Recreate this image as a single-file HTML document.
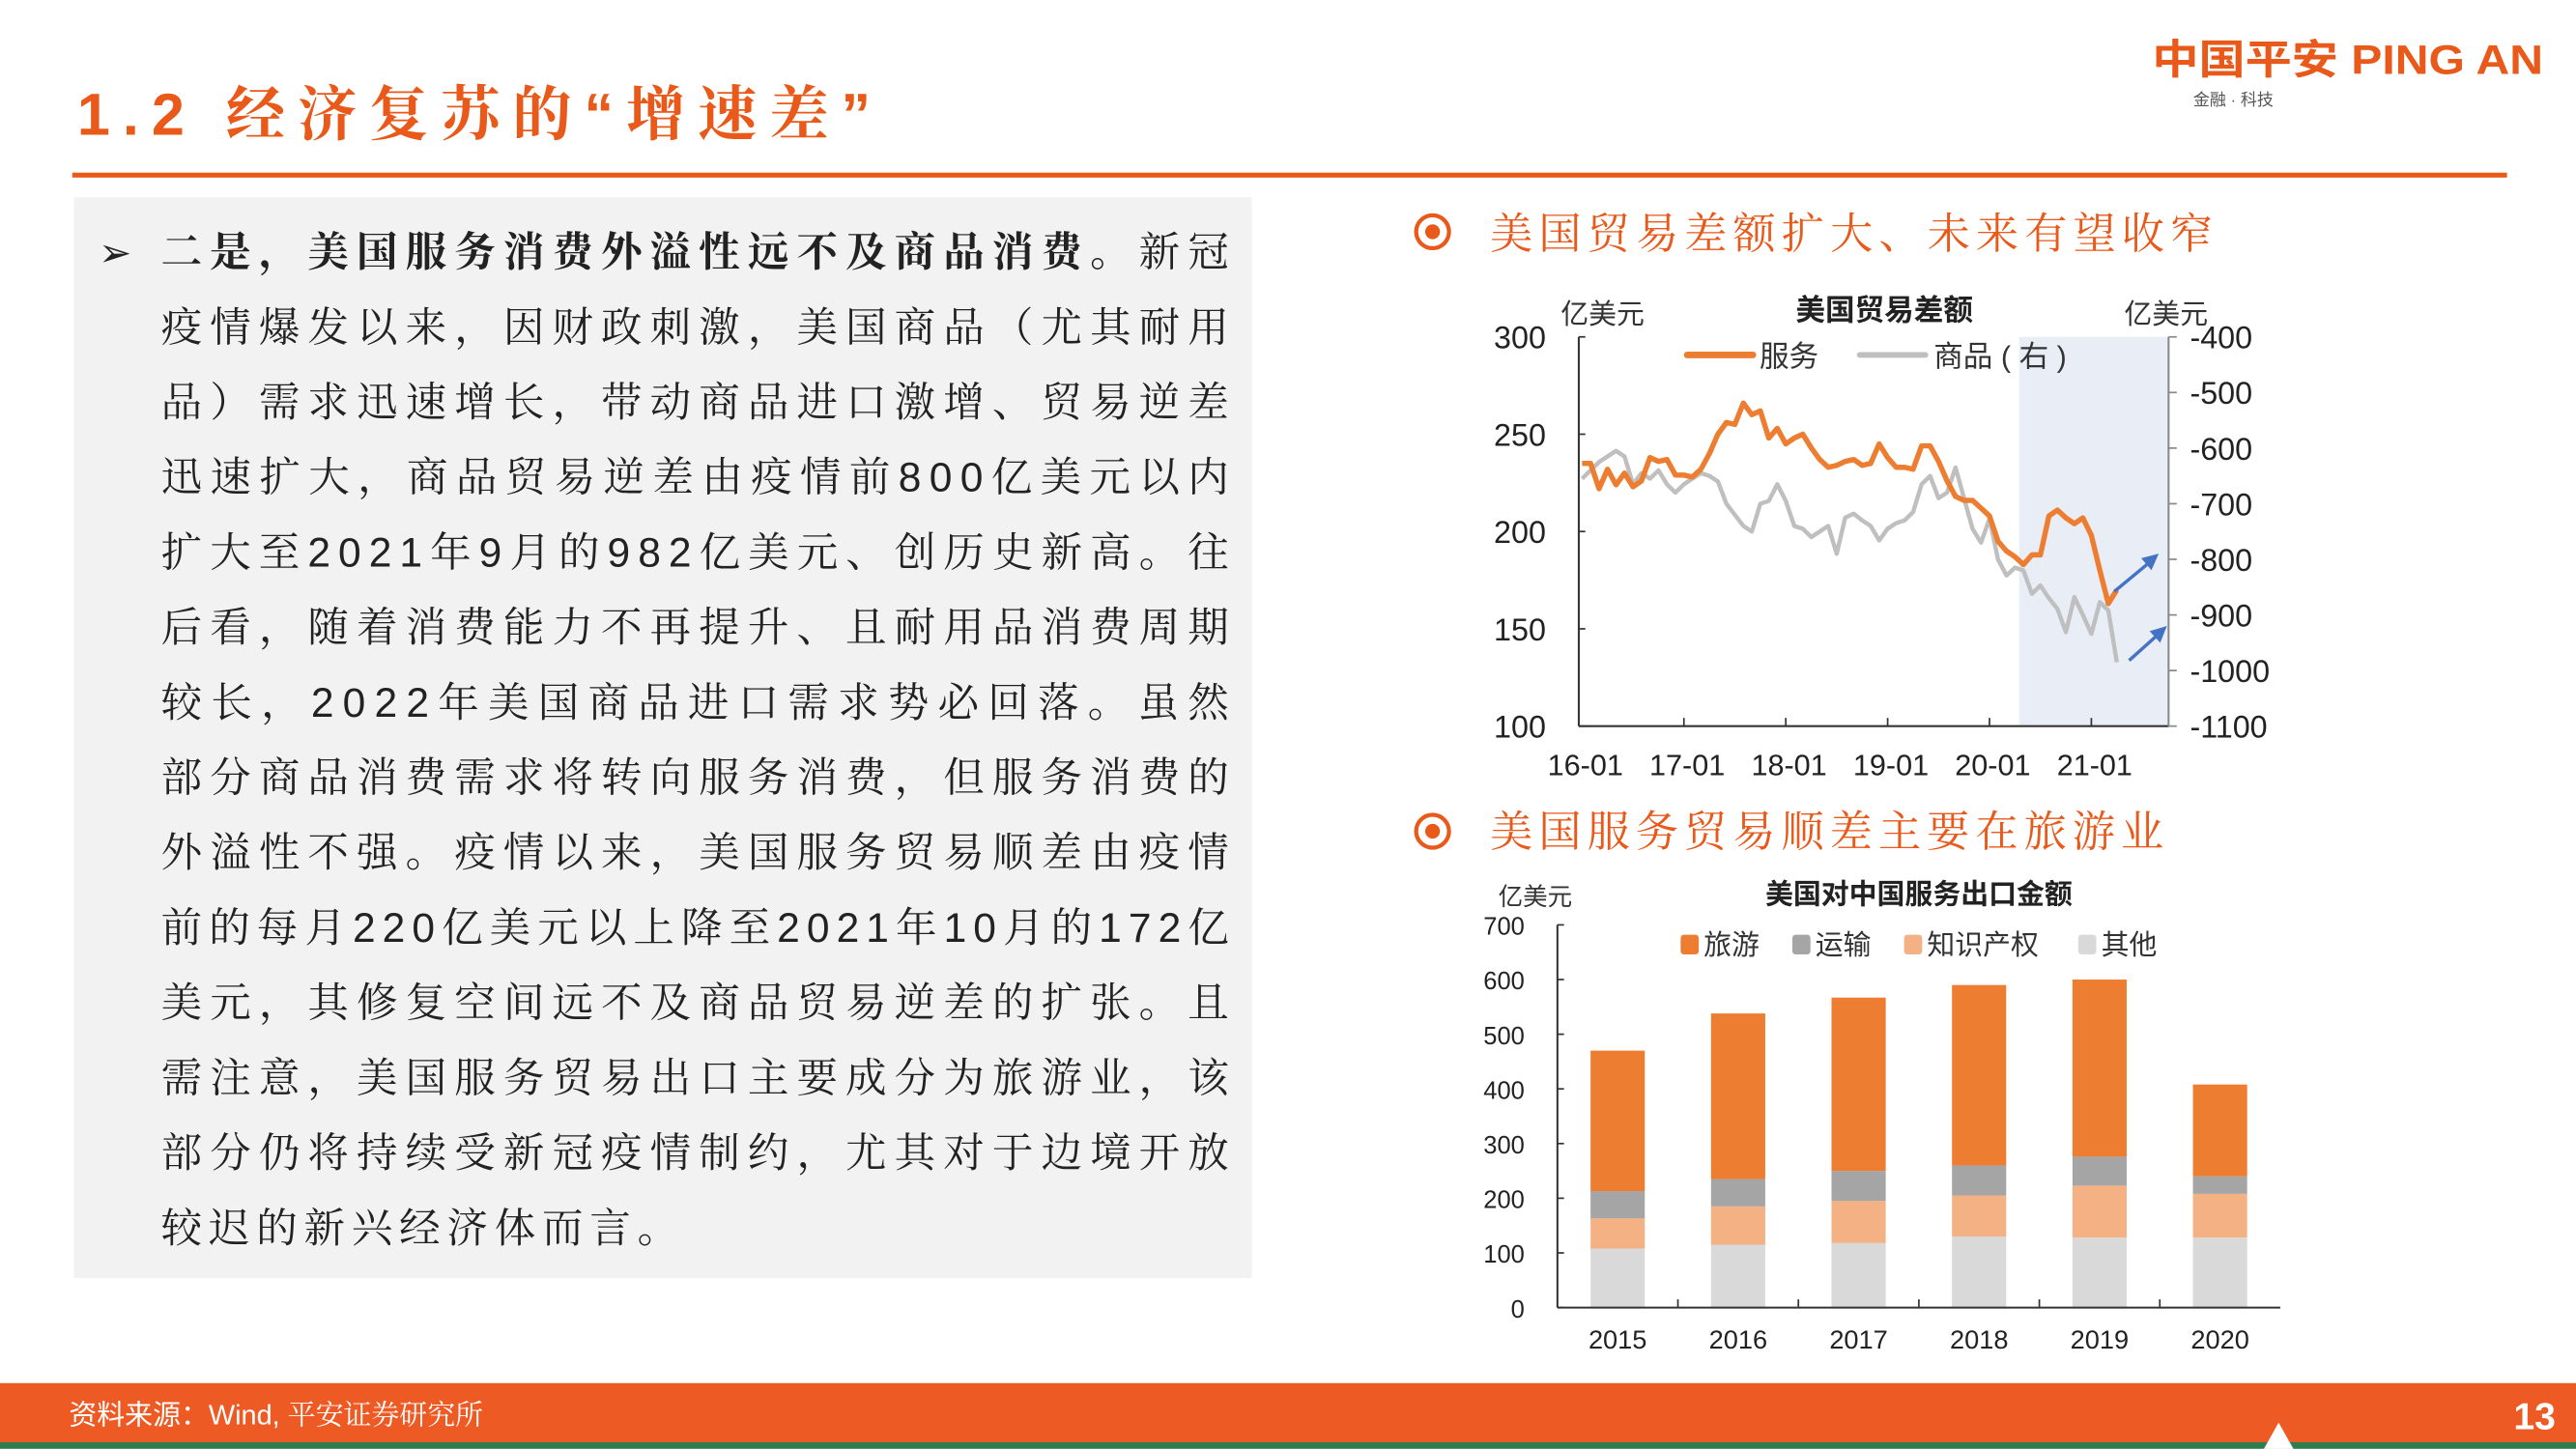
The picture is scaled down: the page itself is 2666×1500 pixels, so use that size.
<!DOCTYPE html>
<html><head><meta charset="utf-8"><style>
html,body{margin:0;padding:0;background:#fff;}
svg{display:block;}
.s{font-family:"Liberation Sans","Noto Sans CJK SC",sans-serif;}
.r{font-family:"Liberation Sans","Noto Serif CJK SC",serif;}
</style></head><body>
<svg id="page" width="2666" height="1500" viewBox="0 0 1568 882" xmlns="http://www.w3.org/2000/svg">
<text x="47" y="82" class="r" font-size="36" fill="#E8591A" font-weight="bold" textLength="483" lengthAdjust="spacing"><tspan class="s">1.2</tspan> 经济复苏的“增速差”</text>
<g>
<text x="1310" y="45" class="s" font-size="25" font-weight="bold" fill="#E8591A" textLength="238" lengthAdjust="spacingAndGlyphs">中国平安 PING AN</text>
<text x="1335" y="64" class="s" font-size="10" fill="#555">金融 · 科技</text>
</g>
<rect x="44" y="105" width="1482" height="3" fill="#E8591A"/>
<rect x="45" y="120" width="717" height="658" fill="#F2F2F2"/>
<text x="60" y="162" class="s" font-size="24" fill="#222">➢</text>
<g id="para" class="r" font-size="25" fill="#222"></g>

<g>
<circle cx="872" cy="141" r="10" fill="none" stroke="#E8591A" stroke-width="2.5"/><circle cx="872" cy="141" r="4.5" fill="#E8591A"/>
<text x="907" y="151" class="r" font-size="26" fill="#E8591A" textLength="440" lengthAdjust="spacing">美国贸易差额扩大、未来有望收窄</text>
</g>
<g>
<circle cx="872" cy="506" r="10" fill="none" stroke="#E8591A" stroke-width="2.5"/><circle cx="872" cy="506" r="4.5" fill="#E8591A"/>
<text x="907" y="515" class="r" font-size="26" fill="#E8591A" textLength="410" lengthAdjust="spacing">美国服务贸易顺差主要在旅游业</text>
</g>
<g id="lineChart"></g>
<g id="barChart"></g>

<rect x="0" y="842" width="1568" height="36" fill="#EE5A24"/>
<rect x="0" y="878" width="1568" height="4" fill="#2E7D4F"/>
<text x="42" y="867" class="r" font-size="17" fill="#fff"><tspan class="s">资料来源：Wind,</tspan> 平安证券研究所</text>
<text x="1530" y="870" class="s" font-size="23" font-weight="bold" fill="#fff">13</text>
<path d="M1378 882 L1387 866 L1396 882 Z" fill="#fff"/>
</svg>
<script>
const NS="http://www.w3.org/2000/svg";
function mk(p,t,a,txt){const e=document.createElementNS(NS,t);for(const k in a)e.setAttribute(k,a[k]);if(txt!==undefined)e.textContent=txt;p.appendChild(e);return e;}

const lines=[
"二是，美国服务消费外溢性远不及商品消费。新冠",
"疫情爆发以来，因财政刺激，美国商品（尤其耐用",
"品）需求迅速增长，带动商品进口激增、贸易逆差",
"迅速扩大，商品贸易逆差由疫情前800亿美元以内",
"扩大至2021年9月的982亿美元、创历史新高。往",
"后看，随着消费能力不再提升、且耐用品消费周期",
"较长，2022年美国商品进口需求势必回落。虽然",
"部分商品消费需求将转向服务消费，但服务消费的",
"外溢性不强。疫情以来，美国服务贸易顺差由疫情",
"前的每月220亿美元以上降至2021年10月的172亿",
"美元，其修复空间远不及商品贸易逆差的扩张。且",
"需注意，美国服务贸易出口主要成分为旅游业，该",
"部分仍将持续受新冠疫情制约，尤其对于边境开放",
"较迟的新兴经济体而言。"];
const para=document.getElementById('para');
lines.forEach((l,i)=>{
  const y=162+i*45.7;
  const last=i===lines.length-1;
  const a={x:98,y:y};
  if(!last){a.textLength=650;a.lengthAdjust="spacing";}
  else{a["letter-spacing"]="4";}
  const t=mk(para,'text',a);
  
  
  if(i===0){
    mk(t,'tspan',{"font-weight":"bold"},"二是，美国服务消费外溢性远不及商品消费。");
    mk(t,'tspan',{},"新冠");
  } else t.textContent=l;
});

const monthStartYear=2016;
const servicesData=[235,235,222,232,224,230,223,226,238,236,237,229,
229,228,232,240,250,256,255,266,260,262,248,253,
245,248,250,243,237,233,234,236,237,234,235,245,
238,233,233,232,244,244,236,226,218,216,216,212,
208,195,190,187,183,188,188,208,211,207,204,207,
198,180,163,170];
const goodsData=[-655,-640,-625,-615,-605,-615,-665,-645,-655,-640,-665,-680,
-665,-655,-645,-650,-660,-700,-720,-740,-750,-700,-695,-665,
-695,-740,-745,-760,-750,-740,-790,-725,-718,-730,-740,-766,
-745,-735,-730,-715,-665,-650,-690,-680,-635,-690,-745,-770,
-727,-800,-829,-815,-820,-862,-847,-870,-889,-931,-868,-900,
-934,-877,-892,-985];
const leftTicks=[100,150,200,250,300];
const rightTicks=[-1100,-1000,-900,-800,-700,-600,-500,-400];
const xTickLabels=["16-01","17-01","18-01","19-01","20-01","21-01"];
const shadeStartMonth=51.5;

(function(){
  const g=document.getElementById('lineChart');
  const L=961,R=1320,T=205,B=442,x0=963,perMonth=62/12;
  const X=m=>x0+m*perMonth;
  const YL=v=>B-(v-100)/200*(B-T);
  const YR=v=>B-(v+1100)/700*(B-T);
  const sh=mk(g,'rect',{x:X(shadeStartMonth),y:T,width:R-X(shadeStartMonth),height:B-T,fill:"#E9EDF6"});
  
  const tt=mk(g,'text',{x:1147,y:195,"text-anchor":"middle",class:"s","font-size":18,"font-weight":"bold",fill:"#222"},"美国贸易差额");
  
  const ul=mk(g,'text',{x:950,y:197,class:"s","font-size":17,fill:"#333"},"亿美元");
  
  const ur=mk(g,'text',{x:1293,y:197,class:"s","font-size":17,fill:"#333"},"亿美元");
  
  mk(g,'line',{x1:L,y1:T,x2:L,y2:B,stroke:"#333","stroke-width":1.2});
  mk(g,'line',{x1:L,y1:B,x2:R,y2:B,stroke:"#333","stroke-width":1.2});
  mk(g,'line',{x1:R,y1:T,x2:R,y2:B,stroke:"#888","stroke-width":1.2});
  leftTicks.forEach(v=>{
    mk(g,'line',{x1:L,y1:YL(v),x2:L+4,y2:YL(v),stroke:"#333"});
    const t=mk(g,'text',{x:941,y:YL(v)+7,"text-anchor":"end",class:"s","font-size":19,fill:"#222"},v);
    
  });
  rightTicks.forEach(v=>{
    mk(g,'line',{x1:R,y1:YR(v),x2:R+5,y2:YR(v),stroke:"#888"});
    const t=mk(g,'text',{x:1333,y:YR(v)+7,class:"s","font-size":19,fill:"#222"},v);
    
  });
  xTickLabels.forEach((lab,i)=>{
    const xx=X(i*12);
    if(i>0)mk(g,'line',{x1:xx,y1:B,x2:xx,y2:B-5,stroke:"#333"});
    const t=mk(g,'text',{x:xx+2,y:472,"text-anchor":"middle",class:"s","font-size":18,fill:"#222"},lab);
    
  });
  const gp=mk(g,'polyline',{points:goodsData.map((v,i)=>X(i)+","+YR(v)).join(" "),fill:"none",stroke:"#BFBFBF","stroke-width":2.6,"stroke-linejoin":"round"});
  
  const sp=mk(g,'polyline',{points:servicesData.map((v,i)=>X(i)+","+YL(v)).join(" "),fill:"none",stroke:"#ED7D31","stroke-width":3.2,"stroke-linejoin":"round"});
  
  const lg=mk(g,'g',{});
  
  mk(lg,'line',{x1:1027,y1:216,x2:1067,y2:216,stroke:"#ED7D31","stroke-width":4,"stroke-linecap":"round"});
  mk(lg,'text',{x:1071,y:223,class:"s","font-size":18,fill:"#333"},"服务");
  mk(lg,'line',{x1:1132,y1:216,x2:1172,y2:216,stroke:"#BFBFBF","stroke-width":3.5,"stroke-linecap":"round"});
  mk(lg,'text',{x:1177,y:223,class:"s","font-size":18,fill:"#333"},"商品 ( 右 )");
  [[1287,360,1314,337],[1296,402,1319,381]].forEach(a=>{
    const ar=mk(g,'g',{});
    
    mk(ar,'line',{x1:a[0],y1:a[1],x2:a[2]-4,y2:a[3]+4,stroke:"#4472C4","stroke-width":2});
    const ang=Math.atan2(a[3]-a[1],a[2]-a[0]);
    const p=(d,o)=>[a[2]-d*Math.cos(ang+o),a[3]-d*Math.sin(ang+o)];
    const p1=p(11,0.45),p2=p(11,-0.45);
    mk(ar,'path',{d:`M${a[2]},${a[3]} L${p1[0]},${p1[1]} L${p2[0]},${p2[1]} Z`,fill:"#4472C4"});
  });
})();

const years=["2015","2016","2017","2018","2019","2020"];
const otherVals=[108,115,118,130,128,128];
const ipVals=[55,70,77,75,95,80];
const transportVals=[50,50,55,55,53,32];
const travelVals=[257,303,317,330,324,168];
const barTicks=[0,100,200,300,400,500,600,700];

(function(){
  const g=document.getElementById('barChart');
  const L=948,R=1388,B=796,T=563,bw=33;
  const Y=v=>B-v/700*(B-T);
  const step=(R-L)/years.length;
  const tt=mk(g,'text',{x:1168,y:550,"text-anchor":"middle",class:"s","font-size":17,"font-weight":"bold",fill:"#222"},"美国对中国服务出口金额");
  
  const u=mk(g,'text',{x:912,y:551,class:"s","font-size":15,fill:"#333"},"亿美元");
  
  barTicks.forEach(v=>{
    mk(g,'line',{x1:L,y1:Y(v),x2:L+4,y2:Y(v),stroke:"#333"});
    const t=mk(g,'text',{x:928,y:Y(v)+6,"text-anchor":"end",class:"s","font-size":15,fill:"#222"},v);
    
  });
  const series=[[otherVals,"#D9D9D9","other"],[ipVals,"#F4B183","ip"],[transportVals,"#A5A5A5","transport"],[travelVals,"#ED7D31","travel"]];
  years.forEach((yr,i)=>{
    const cx=L+step*(i+0.5);
    let base=0;
    series.forEach(s=>{
      const v=s[0][i];
      const r=mk(g,'rect',{x:cx-bw/2,y:Y(base+v),width:bw,height:Y(base)-Y(base+v),fill:s[1]});
      
      
      base+=v;
    });
    if(i>0)mk(g,'line',{x1:L+step*i,y1:B,x2:L+step*i,y2:B-5,stroke:"#333"});
    const t=mk(g,'text',{x:cx,y:821,"text-anchor":"middle",class:"s","font-size":16,fill:"#222"},yr);
    
  });
  mk(g,'line',{x1:L,y1:T,x2:L,y2:B,stroke:"#333","stroke-width":1.2});
  mk(g,'line',{x1:L,y1:B,x2:R,y2:B,stroke:"#333","stroke-width":1.2});
  const lg=mk(g,'g',{});
  
  [["旅游","#ED7D31",1023],["运输","#A5A5A5",1091],["知识产权","#F4B183",1159],["其他","#D9D9D9",1265]].forEach(e=>{
    mk(lg,'rect',{x:e[2],y:569,width:11,height:12,rx:2,fill:e[1]});
    mk(lg,'text',{x:e[2]+14,y:581,class:"s","font-size":17,fill:"#333"},e[0]);
  });
})();
</script>
</body></html>
